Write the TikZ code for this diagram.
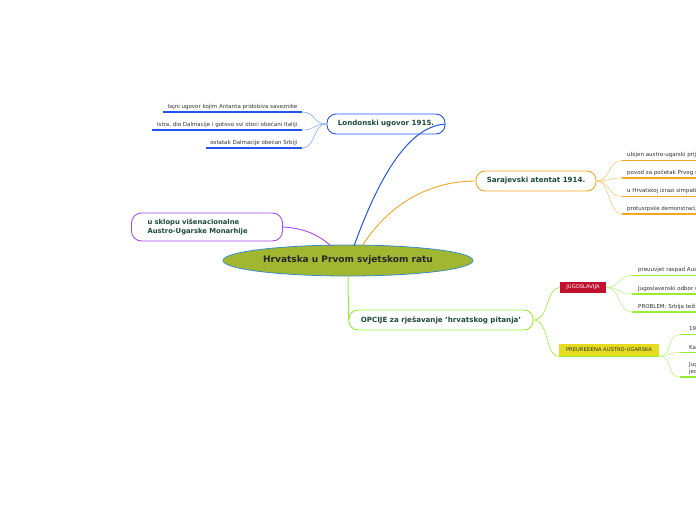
\documentclass[tikz,border=0pt]{standalone}
\usepackage{fontspec}
\setmainfont{DejaVu Sans}
\usetikzlibrary{shapes.geometric}
\definecolor{lbl}{HTML}{1D4A3A}
\definecolor{txt}{HTML}{333333}
\definecolor{bluemain}{HTML}{2255EE}
\definecolor{bluelight}{HTML}{88AAFF}
\definecolor{orangemain}{HTML}{F5A623}
\definecolor{orangelight}{HTML}{FCCB7A}
\definecolor{purplemain}{HTML}{A64CF0}
\definecolor{greenmain}{HTML}{99EE33}
\definecolor{greenlight}{HTML}{BBF58A}
\definecolor{olive}{HTML}{A1B631}
\definecolor{ellborder}{HTML}{3A8EC8}
\definecolor{jugo}{HTML}{C0102E}
\definecolor{yel}{HTML}{E6DC1E}
\begin{document}
\begin{tikzpicture}[x=1pt,y=-1pt,
  topic/.style={draw, rounded corners=9, line width=0.9pt, fill=white, minimum height=20, inner xsep=6, inner ysep=0, font=\fontsize{7.1}{8}\selectfont\bfseries, text=lbl},
  leafL/.style={anchor=south east, inner xsep=4.5, inner ysep=2.6, font=\fontsize{5.5}{6.5}\selectfont, text=txt},
  leafR/.style={anchor=south west, inner xsep=0, inner ysep=2.6, font=\fontsize{5.5}{6.5}\selectfont, text=txt},
  uline/.style={line width=1.6pt},
  conn/.style={line width=0.6pt},
  tag/.style={inner xsep=0, inner ysep=0, font=\fontsize{5.2}{6}\selectfont}
]
\useasboundingbox (0,0) rectangle (696,520);
\fill[white] (0,0) rectangle (696,520);

% central
\node[ellipse, draw=ellborder, line width=0.8pt, fill=olive, minimum width=250, minimum height=31, inner sep=0,
  font=\fontsize{9}{10}\selectfont\bfseries, text=black!85] (c) at (348,260.5) {Hrvatska u Prvom svjetskom ratu};

% Londonski
\node[topic, draw=bluemain, minimum width=118] (lon) at (386,124) {Londonski ugovor 1915.};
\node[leafL] (l1) at (302,112) {tajni ugovor kojim Antanta pridobiva saveznike};
\node[leafL] (l2) at (302,130) {Istra, dio Dalmacije i gotovo svi otoci obećani Italiji};
\node[leafL] (l3) at (302,148) {ostatak Dalmacije obećan Srbiji};
\foreach \n in {l1,l2,l3}{
  \draw[uline, bluemain] (\n.south west) -- (\n.south east);
  \draw[conn, bluelight] (lon.west) .. controls +(-14,0) and +(14,0) .. (\n.south east);
}
\draw[line width=1pt, bluemain] (354,246) .. controls (385,160) and (415,126) .. (lon.east);

% Sarajevski
\node[topic, draw=orangemain, minimum width=120] (sar) at (536,181) {Sarajevski atentat 1914.};
\node[leafR] (s1) at (627,160.5) {ubijen austro-ugarski prijestolonasljednik Franjo Ferdinand};
\node[leafR] (s2) at (627,178) {povod za početak Prvog svjetskog rata};
\node[leafR] (s3) at (627,196.5) {u Hrvatskoj izrazi simpatija prema Srbiji};
\node[leafR] (s4) at (627,214) {protusrpske demonstracije};
\foreach \n in {s1,s2,s3,s4}{
  \draw[uline, orangemain] ([xshift=-5]\n.south west) -- (\n.south east);
  \draw[conn, orangelight] (sar.east) .. controls +(14,0) and +(-14,0) .. ([xshift=-5]\n.south west);
}
\draw[line width=0.9pt, orangemain] (362,246) .. controls (395,195) and (440,181) .. (sar.west);

% purple
\node[topic, draw=purplemain, minimum height=28, inner xsep=16, text width=119, align=left, rounded corners=10,
  font=\fontsize{6.8}{8.6}\selectfont\bfseries] (pur) at (207,227) {u sklopu višenacionalne\\Austro-Ugarske Monarhije};
\draw[line width=0.9pt, purplemain] (pur.east) .. controls (305,228) and (320,236) .. (331,246);

% OPCIJE
\node[topic, draw=greenmain, minimum width=184] (op) at (441,320) {OPCIJE za rješavanje 'hrvatskog pitanja'};
\draw[line width=1pt, greenmain] (c.south) -- (op.west);

\node[tag, fill=jugo, text=white, minimum width=46, minimum height=11] (ju) at (583,287.5) {JUGOSLAVIJA};
\node[tag, fill=yel, text=txt, minimum width=100, minimum height=12] (pr) at (609,350) {PREUREĐENA AUSTRO-UGARSKA};
\draw[conn, greenmain] (op.east) .. controls +(16,0) and +(-14,0) .. (ju.west);
\draw[conn, greenmain] (op.east) .. controls +(16,0) and +(-14,0) .. (pr.south west);
\draw[line width=1.2pt, greenmain] (pr.south west) -- (pr.south east);

\node[leafR] (j1) at (638,275.5) {preuuvjet raspad Austro-Ugarske};
\node[leafR] (j2) at (638,294) {Jugoslavenski odbor u Londonu};
\node[leafR] (j3) at (638,312) {PROBLEM: Srbija teži velikosrpskoj državi};
\foreach \n in {j1,j2,j3}{
  \draw[uline, greenmain] ([xshift=-6]\n.south west) -- (\n.south east);
  \draw[conn, greenlight] (ju.east) .. controls +(14,0) and +(-14,0) .. ([xshift=-6]\n.south west);
}

\node[leafR] (p1) at (689,334.5) {1917. Svibanjska deklaracija};
\node[leafR] (p2) at (689,352.5) {Karlo I.};
\node[leafR, align=left] (p3) at (689,377) {Jugoslavenski klub\\jedinstvo};
\foreach \n in {p1,p2,p3}{
  \draw[uline, greenmain] ([xshift=-9]\n.south west) -- (\n.south east);
  \draw[conn, greenlight] (pr.south east) .. controls +(14,0) and +(-14,0) .. ([xshift=-9]\n.south west);
}
\end{tikzpicture}
\end{document}
